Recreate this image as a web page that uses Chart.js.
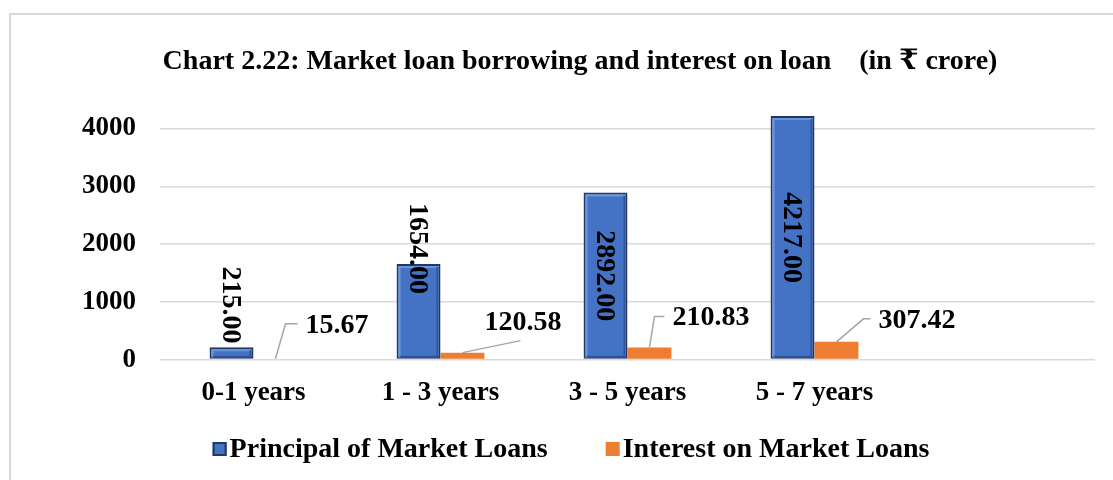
<!DOCTYPE html>
<html>
<head>
<meta charset="utf-8">
<script src="https://cdn.jsdelivr.net/npm/chart.js@4.4.1/dist/chart.umd.min.js"></script>
<style>
  html, body { margin: 0; padding: 0; background: #fff; }
</style>
</head>
<body>
<canvas id="c" width="1113" height="480"></canvas>
<script>
// data
var categories = ['0-1 years', '1 - 3 years', '3 - 5 years', '5 - 7 years', ''];
var principal  = [215.00, 1654.00, 2892.00, 4217.00, null];
var interest   = [15.67, 120.58, 210.83, 307.42, null];
var yTicks     = [0, 1000, 2000, 3000, 4000];

var SERIF = '"Liberation Serif", "Times New Roman", "DejaVu Serif", serif';
var BLUE = '#4472C4', BLUE_EDGE = '#1F3864', ORANGE = '#ED7D31';

// label placement tweaks (pixels), as in the original
var principalShift = [-48, -63, 0, 0];
// [elbowDx, elbowDy, endDx, textDx, textDy] relative to bar top centre
var interestLeader = [
  [10, -35, 22, 30, -33],
  [58, -12, 58, 22, -30],
  [5, -31, 15, 23, -30],
  [27, -23, 34, 42, -21]
];

function fmt(v) { return v.toFixed(2); }

var decor = {
  id: 'decor',
  beforeDraw: function (chart) {
    var ctx = chart.ctx;
    ctx.save();
    ctx.strokeStyle = '#d9d9d9';
    ctx.lineWidth = 2;
    ctx.strokeRect(10, 14, 1300, 700);
    ctx.restore();
  },
  afterDatasetsDraw: function (chart) {
    var ctx = chart.ctx;
    var blue = chart.getDatasetMeta(0).data;
    var orange = chart.getDatasetMeta(1).data;
    ctx.save();

    // bevel on the blue bars
    blue.forEach(function (el, i) {
      if (principal[i] == null) return;
      var l = el.x - el.width / 2 + 2, r = el.x + el.width / 2 - 2;
      var t = el.y + 2, b = el.base - 1;
      if (b - t < 4) return;
      ctx.lineWidth = 2;
      ctx.strokeStyle = '#6d95dc';
      ctx.beginPath();
      ctx.moveTo(l + 1, b); ctx.lineTo(l + 1, t + 1); ctx.lineTo(r, t + 1);
      ctx.stroke();
      ctx.strokeStyle = '#2f5597';
      ctx.beginPath();
      ctx.moveTo(r - 1, t + 1); ctx.lineTo(r - 1, b - 1); ctx.lineTo(l + 1, b - 1);
      ctx.stroke();
    });

    ctx.fillStyle = '#000';
    ctx.font = 'bold 28px ' + SERIF;

    // rotated labels on the blue bars
    blue.forEach(function (el, i) {
      if (principal[i] == null) return;
      var cy = (el.y + el.base) / 2 + principalShift[i];
      ctx.save();
      ctx.translate(el.x, cy);
      ctx.rotate(Math.PI / 2);
      ctx.textAlign = 'center';
      ctx.textBaseline = 'middle';
      ctx.fillText(fmt(principal[i]), 0, 1);
      ctx.restore();
    });

    // leader-line labels on the orange bars
    orange.forEach(function (el, i) {
      if (interest[i] == null) return;
      var p = interestLeader[i];
      ctx.strokeStyle = '#a6a6a6';
      ctx.lineWidth = 1.5;
      ctx.beginPath();
      ctx.moveTo(el.x, el.y);
      ctx.lineTo(el.x + p[0], el.y + p[1]);
      ctx.lineTo(el.x + p[2], el.y + p[1]);
      ctx.stroke();
      ctx.textAlign = 'left';
      ctx.textBaseline = 'middle';
      ctx.fillText(fmt(interest[i]), el.x + p[3], el.y + p[4]);
    });
    ctx.restore();
  },
  afterDraw: function (chart) {
    // legend with a tight box-to-text gap
    var ctx = chart.ctx;
    var ds = chart.data.datasets;
    ctx.save();
    ctx.font = 'bold 28px ' + SERIF;
    ctx.textBaseline = 'middle';
    ctx.textAlign = 'left';
    var box = 14, gap = 3, between = 58;
    var widths = ds.map(function (d) { return ctx.measureText(d.label).width; });
    var total = widths.reduce(function (a, w) { return a + box + gap + w; }, 0) + between * (ds.length - 1);
    var x = 571 - total / 2, y = 449;
    ds.forEach(function (d, i) {
      ctx.fillStyle = d.backgroundColor;
      ctx.fillRect(x, y - 7, box, box);
      if (i === 0) {
        ctx.strokeStyle = BLUE_EDGE;
        ctx.lineWidth = 2;
        ctx.strokeRect(x + 1, y - 6, box - 2, box - 2);
      }
      ctx.fillStyle = '#000';
      ctx.fillText(d.label, x + box + gap, y + 1);
      x += box + gap + widths[i] + between;
    });
    ctx.restore();
  }
};

new Chart(document.getElementById('c'), {
  type: 'bar',
  data: {
    labels: categories,
    datasets: [
      {
        label: 'Principal of Market Loans',
        data: principal,
        backgroundColor: BLUE,
        borderColor: BLUE_EDGE,
        borderWidth: 2,
        borderSkipped: false
      },
      {
        label: 'Interest on Market Loans',
        data: interest,
        backgroundColor: ORANGE,
        borderWidth: 0
      }
    ]
  },
  options: {
    responsive: false,
    animation: false,
    events: [],
    layout: { padding: { left: 65, right: 18, top: 0, bottom: 54 } },
    datasets: { bar: { categoryPercentage: 0.47, barPercentage: 1 } },
    plugins: {
      legend: { display: false },
      tooltip: { enabled: false },
      title: {
        display: true,
        text: 'Chart 2.22: Market loan borrowing and interest on loan    (in \u20B9 crore)',
        color: '#000',
        font: { family: SERIF, size: 28, weight: 'bold' },
        padding: { top: 45, bottom: 21 }
      }
    },
    scales: {
      x: {
        grid: { display: false, drawTicks: false },
        border: { display: false },
        ticks: { color: '#000', padding: 17, maxRotation: 0, font: { family: SERIF, size: 27, weight: 'bold' } }
      },
      y: {
        min: 0,
        max: 4500,
        afterBuildTicks: function (s) { s.ticks = yTicks.map(function (v) { return { value: v }; }); },
        afterFit: function (s) { s.width = 95; },
        grid: { color: '#d9d9d9', lineWidth: 1.5, drawTicks: false },
        border: { display: false },
        ticks: {
          color: '#000', padding: 24,
          font: { family: SERIF, size: 27, weight: 'bold' },
          callback: function (v) { return String(v); }
        }
      }
    }
  },
  plugins: [decor]
});
</script>
</body>
</html>
